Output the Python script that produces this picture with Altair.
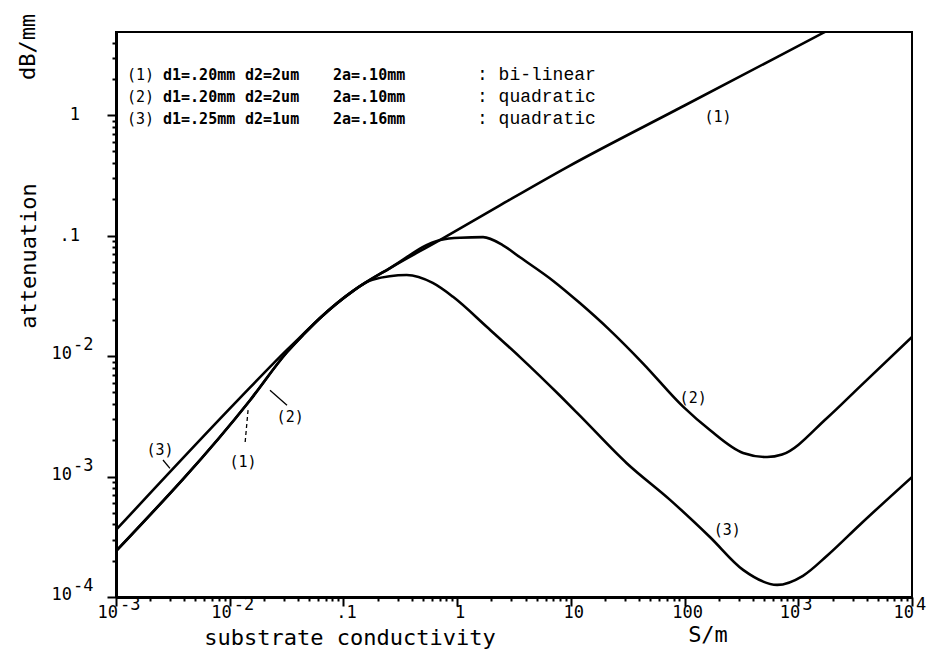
import altair as alt
import pandas as pd

# ---------------- data ----------------
# curve (1): bi-linear
s1 = [0.001, 0.0151, 0.032, 0.044, 0.062, 0.121, 0.257, 0.71, 2.38, 9.3, 100, 1650, 10000]
v1 = [2.4e-4, 4.3e-3, 0.0108, 0.0149, 0.0206, 0.0346, 0.0537, 0.092, 0.178, 0.37, 1.2, 4.8, 11.7]
# curve (2): quadratic, d1=.20mm
s2 = [0.001, 0.0151, 0.032, 0.044, 0.062, 0.121, 0.257, 0.71, 1.06, 1.69, 2.53, 3.57, 7.0, 12,
      22, 43, 97, 167, 327, 532, 720, 1790, 3500, 10000]
v2 = [2.4e-4, 4.3e-3, 0.0108, 0.0149, 0.0206, 0.0346, 0.0537, 0.092, 0.096, 0.097, 0.083, 0.066,
      0.042, 0.0275, 0.0164, 8.7e-3, 3.8e-3, 2.43e-3, 1.57e-3, 1.45e-3, 1.52e-3, 3.06e-3, 5.6e-3, 0.0144]
# curve (3): quadratic, d1=.25mm
s3 = [0.001, 0.0118, 0.032, 0.044, 0.062, 0.121, 0.18, 0.36, 0.61, 0.92, 1.83, 3.57, 8.0, 12,
      31, 74.5, 167, 327, 652, 1100, 1790, 3500, 10000]
v3 = [3.6e-4, 4.3e-3, 0.0113, 0.0151, 0.0206, 0.0346, 0.043, 0.047, 0.0404, 0.031, 0.0174, 9.8e-3,
      4.7e-3, 3.2e-3, 1.29e-3, 6.4e-4, 3.15e-4, 1.68e-4, 1.26e-4, 1.5e-4, 2.2e-4, 4.0e-4, 9.9e-4]

# curve annotations
ann_text = ["(1)", "(2)", "(3)", "(2)", "(1)", "(3)"]
ann_s = [197, 119, 237, 0.034, 0.0131, 0.00244]
ann_v = [0.96, 4.5e-3, 3.6e-4, 3.1e-3, 1.32e-3, 1.66e-3]

# leader strokes from labels to curves
lead_s = [0.00259, 0.0226]
lead_v = [1.37e-3, 5.2e-3]
lead_s2 = [0.00298, 0.0319]
lead_v2 = [1.17e-3, 3.9e-3]
dlead_s = [0.0145]
dlead_v = [3.56e-3]
dlead_s2 = [0.01365]
dlead_v2 = [1.9e-3]

# legend block
leg_id = ["(1)", "(2)", "(3)"]
leg_d1 = ["d1=.20mm", "d1=.20mm", "d1=.25mm"]
leg_d2 = ["d2=2um", "d2=2um", "d2=1um"]
leg_2a = ["2a=.10mm", "2a=.10mm", "2a=.16mm"]
leg_kind = [": bi-linear", ": quadratic", ": quadratic"]

# tick labels
x_tick_vals = [1e-3, 1e-2, 0.1, 1, 10, 100, 1e3, 1e4]
x_tick_base = ["10", "10", ".1", "1", "10", "100", "10", "10"]
x_tick_exp = ["-3", "-2", "", "", "", "", "3", "4"]
y_tick_vals = [1e-4, 1e-3, 1e-2, 0.1, 1]
y_tick_base = ["10", "10", "10", ".1", "1"]
y_tick_exp = ["-4", "-3", "-2", "", ""]
mantissas = [2, 3, 4, 5, 6, 7, 8, 9]

# ---------------- build ----------------
W, H = 796, 565
YTOP = 4.89

curves = pd.concat([
    pd.DataFrame({"s": s1, "v": v1, "curve": "1"}),
    pd.DataFrame({"s": s2, "v": v2, "curve": "2"}),
    pd.DataFrame({"s": s3, "v": v3, "curve": "3"}),
])

x_minor = [m * d for d in x_tick_vals[:-1] for m in mantissas]
y_minor = [m * d for d in y_tick_vals for m in mantissas if m * d <= YTOP]

xscale = alt.Scale(type="log", domain=[1e-3, 1e4], nice=False)
yscale = alt.Scale(type="log", domain=[1e-4, YTOP], nice=False)


def axis(values, orient, size, domain):
    return alt.Axis(values=values, orient=orient, labels=False, title=None, grid=False,
                    domain=domain, domainColor="black", domainWidth=3,
                    tickColor="black", tickWidth=2, tickSize=size)


MONO = "DejaVu Sans Mono"

lines = alt.Chart(curves).mark_line(color="black", strokeWidth=2.6, interpolate="monotone",
                                    clip=True).encode(
    x=alt.X("s:Q", scale=xscale, axis=axis(x_tick_vals, "bottom", 9, True)),
    y=alt.Y("v:Q", scale=yscale, axis=axis(y_tick_vals, "left", 9, True)),
    detail="curve:N",
)

minor = alt.Chart(curves).mark_point(opacity=0).encode(
    x=alt.X("s:Q", scale=xscale, axis=axis(x_minor, "bottom", 4, False)),
    y=alt.Y("v:Q", scale=yscale, axis=axis(y_minor, "left", 4, False)),
)

ann = alt.Chart(pd.DataFrame({"s": ann_s, "v": ann_v, "t": ann_text})).mark_text(
    font=MONO, fontSize=15, color="black").encode(
    x=alt.X("s:Q", scale=xscale, axis=None),
    y=alt.Y("v:Q", scale=yscale, axis=None),
    text="t:N",
)

leaders = alt.Chart(pd.DataFrame({"s": lead_s, "v": lead_v, "s2": lead_s2, "v2": lead_v2})).mark_rule(
    color="black", strokeWidth=1.3).encode(
    x=alt.X("s:Q", scale=xscale, axis=None), x2="s2:Q",
    y=alt.Y("v:Q", scale=yscale, axis=None), y2="v2:Q",
)
dleaders = alt.Chart(pd.DataFrame({"s": dlead_s, "v": dlead_v, "s2": dlead_s2, "v2": dlead_v2})).mark_rule(
    color="black", strokeWidth=1.3, strokeDash=[4, 3]).encode(
    x=alt.X("s:Q", scale=xscale, axis=None), x2="s2:Q",
    y=alt.Y("v:Q", scale=yscale, axis=None), y2="v2:Q",
)

xt = pd.DataFrame({"v": x_tick_vals, "base": x_tick_base, "exp": x_tick_exp})
yt = pd.DataFrame({"v": y_tick_vals, "base": y_tick_base, "exp": y_tick_exp})
TFS = 17

xl_plain = alt.Chart(xt).transform_filter("datum.exp == ''").mark_text(
    font=MONO, fontSize=TFS, align="center", baseline="middle", dx=3).encode(
    x=alt.X("v:Q", scale=xscale, axis=None), y=alt.value(H + 16), text="base:N")
xl_base = alt.Chart(xt).transform_filter("datum.exp != ''").mark_text(
    font=MONO, fontSize=TFS, align="right", baseline="middle", dx=2).encode(
    x=alt.X("v:Q", scale=xscale, axis=None), y=alt.value(H + 16), text="base:N")
xl_exp = alt.Chart(xt).transform_filter("datum.exp != ''").mark_text(
    font=MONO, fontSize=TFS, align="left", baseline="middle", dx=4).encode(
    x=alt.X("v:Q", scale=xscale, axis=None), y=alt.value(H + 8), text="exp:N")

yl_plain = alt.Chart(yt).transform_filter("datum.exp == ''").mark_text(
    font=MONO, fontSize=TFS, align="right", baseline="middle").encode(
    y=alt.Y("v:Q", scale=yscale, axis=None), x=alt.value(-36), text="base:N")
yl_base = alt.Chart(yt).transform_filter("datum.exp != ''").mark_text(
    font=MONO, fontSize=TFS, align="right", baseline="middle", dy=-2).encode(
    y=alt.Y("v:Q", scale=yscale, axis=None), x=alt.value(-44), text="base:N")
yl_exp = alt.Chart(yt).transform_filter("datum.exp != ''").mark_text(
    font=MONO, fontSize=TFS, align="left", baseline="middle", dy=-11).encode(
    y=alt.Y("v:Q", scale=yscale, axis=None), x=alt.value(-43), text="exp:N")


def label(txt, x, y, size, font=MONO, angle=0, weight="normal", align="center", lh=None):
    kw = dict(font=font, fontSize=size, fontWeight=weight, align=align, baseline="middle",
              color="black", angle=angle)
    if lh is not None:
        kw.update(lineBreak="\n", lineHeight=lh)
    return alt.Chart(pd.DataFrame({"t": [txt]})).mark_text(**kw).encode(
        text="t:N", x=alt.value(x), y=alt.value(y))


titles = [
    label("substrate  conductivity", 234, 606, 22),
    label("S/m", 592, 603, 22),
    label("attenuation", -87, 224, 22, angle=270),
    label("dB/mm", -88, 15, 22, angle=270),
]

LH = 22
legend = [
    label("\n".join(leg_id), 11, 43, 15, align="left", lh=LH),
    label("\n".join(leg_d1), 47, 43, 15, weight="bold", align="left", lh=LH),
    label("\n".join(leg_d2), 129, 43, 15, weight="bold", align="left", lh=LH),
    label("\n".join(leg_2a), 217, 43, 15, weight="bold", align="left", lh=LH),
    label("\n".join(leg_kind), 361, 43, 18, font="Liberation Mono", align="left", lh=LH),
]

chart = alt.layer(
    lines, minor, leaders, dleaders, ann,
    xl_plain, xl_base, xl_exp, yl_plain, yl_base, yl_exp,
    *titles, *legend,
).resolve_axis(x="independent", y="independent").properties(
    width=W, height=H,
    autosize=alt.AutoSizeParams(type="none"),
    padding={"left": 116, "top": 32, "right": 20, "bottom": 63},
    background="white",
).configure_view(stroke="black", strokeWidth=2)

chart.save("out.html", embed_options={"renderer": "svg", "actions": False})
